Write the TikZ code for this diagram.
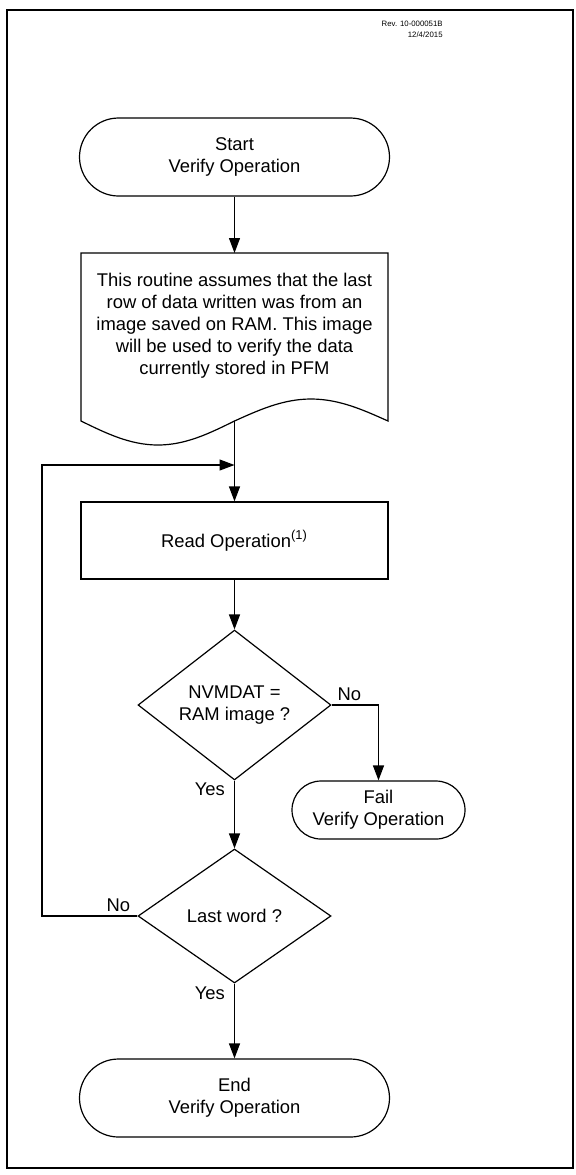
\documentclass[tikz,border=0pt]{standalone}
\usepackage{fontspec}
\setmainfont{Liberation Sans}
\usetikzlibrary{shapes.geometric,arrows.meta}

\tikzset{
  every node/.style={font=\fontsize{9.2}{11}\selectfont},
  wire/.style={line width=.6pt},
  term/.style={draw, wire, rounded corners=19.5pt, minimum width=155pt, minimum height=39pt, inner sep=0pt, align=center},
  proc/.style={draw, wire, minimum width=153.5pt, minimum height=38.5pt, align=center},
  decision/.style={draw, wire, diamond, minimum width=96.5pt, minimum height=67pt, inner sep=0pt, align=center},
  flow/.style={wire, -{Triangle[length=7.5pt,width=5.5pt]}},
  lbl/.style={inner sep=2pt},
}

\begin{document}
\begin{tikzpicture}[x=.5pt,y=-.5pt]%[pixels of the sheet]
	\useasboundingbox (0,0) rectangle (575,1175);
	\draw[line width=1pt] (7,10) rectangle (573,1168);
	\node[font=\fontsize{3.9}{5.5}\selectfont, align=right, anchor=east, inner sep=0pt] (rev) at (443,29) {Rev. 10-000051B\\12/4/2015};
	 \node[term] (start) at (234.5,157) {Start\\Verify Operation};
	 % document with the wavy bottom
	 \draw[wire] (81,253) -- (388,253) -- (388,421) sin (311,399) cos (234.5,421) sin (158,445) cos (81,421) -- cycle;
	 \coordinate (doctop) at (234.5,253);
	 \coordinate (docout) at (234.5,421);
	 \node[align=center] (note) at (234.5,325.5) {This routine assumes that the last\\row of data written was from an\\image saved on RAM. This image\\will be used to verify the data\\currently stored in PFM};
	 \coordinate (merge) at (234.5,465);
	 \coordinate (back) at (42,465);
	 \node[proc] (read) at (234.5,540.5) {Read Operation\textsuperscript{(1)}};
	 \node[decision] (match) at (234.5,705) {NVMDAT =\\RAM image ?};
	 \node[term, minimum width=86.5pt, minimum height=29pt, rounded corners=14.5pt] (fail) at (378.5,810) {Fail\\Verify Operation};
	 \node[decision] (last) at (234.5,916) {Last word ?};
	 \node[term] (done) at (234.5,1098) {End\\Verify Operation};
	 % connectors
	 \draw[flow] (start.south) -- (doctop);
	 \draw[flow] (docout) -- (read.north);
	 \draw[flow] (read.south) -- (match.north);
	 \draw[flow] (match.east) -- node[lbl,above,pos=.38]{No} (match.east -| fail.north) -- (fail.north);
	 \draw[flow] (match.south) -- node[lbl,left,pos=.135,xshift=-2.5pt]{Yes} (last.north);
	 \draw[flow] (last.west) -- node[lbl,above,pos=.2]{No} (last.west -| back) -- (back) -- (merge);
	 \draw[flow] (last.south) -- node[lbl,left,pos=.126,xshift=-2.5pt]{Yes} (done.north);
\end{tikzpicture}
\end{document}
